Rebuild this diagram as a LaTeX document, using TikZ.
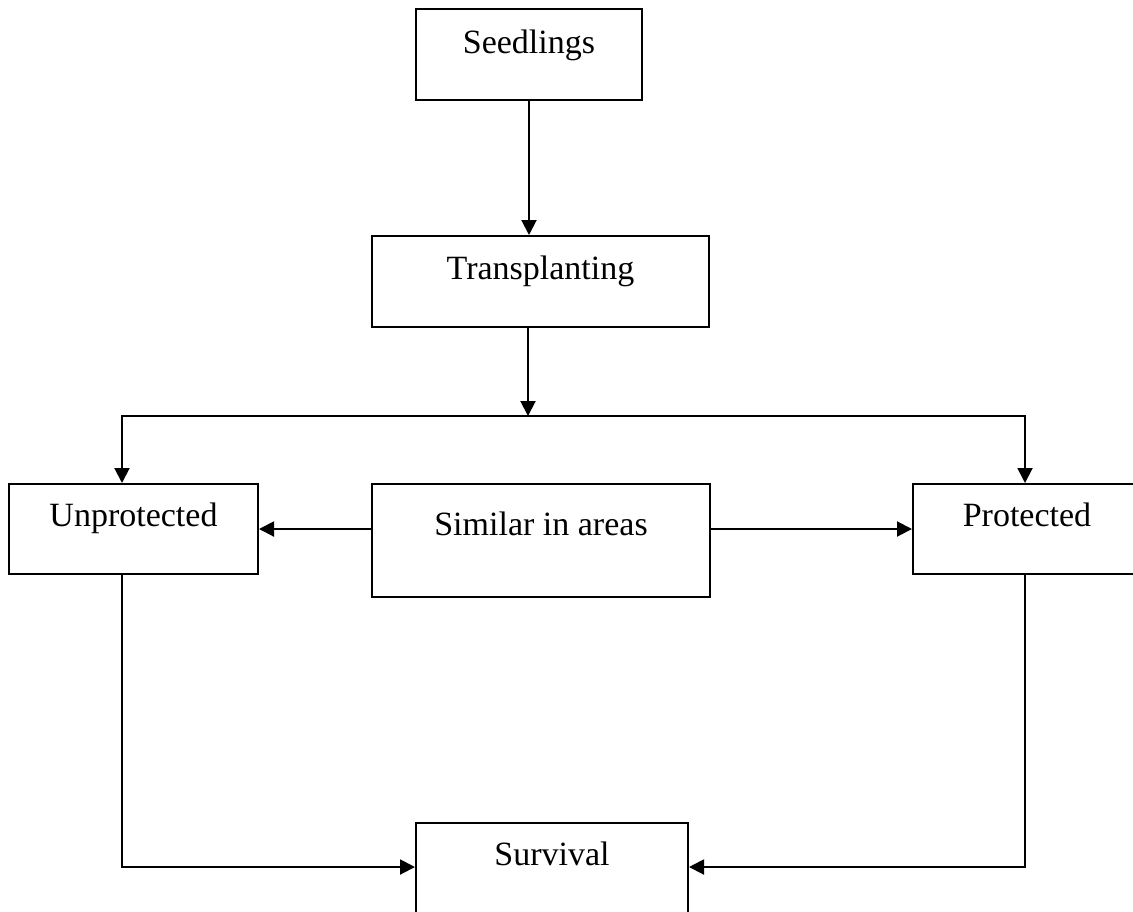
\documentclass[tikz,border=0pt]{standalone}
\usepackage{fontspec}
\setmainfont{Liberation Serif}
\usetikzlibrary{arrows.meta}
\begin{document}
\begin{tikzpicture}[x=0.5pt,y=-0.5pt,
  box/.style={draw, line width=1pt, inner sep=0pt, anchor=north west,
    font=\fontsize{17}{20}\selectfont},
  conn/.style={line width=1pt},
  arr/.style={conn, -{Triangle[length=7.5pt,width=7.5pt]}}]
\useasboundingbox (0,0) rectangle (1133,911);
\clip (0,0) rectangle (1133,911);
\node[box, minimum width=113pt, text height=22pt, text depth=23.5pt] (seed) at (415,8) {Seedlings};
\node[box, minimum width=168.5pt, text height=21.5pt, text depth=24pt] (trans) at (371,235) {Transplanting};
\node[box, minimum width=124.5pt, text height=21pt, text depth=24pt] (unp) at (8,483) {Unprotected};
\node[box, minimum width=169pt, text height=25.5pt, text depth=31pt] (sim) at (371,483) {Similar in areas};
\node[box, minimum width=114pt, text height=21pt, text depth=24pt] (prot) at (912,483) {Protected};
\node[box, minimum width=136pt, text height=21pt, text depth=26pt] (sur) at (415,822) {Survival};
\coordinate (br) at (528,416);
\coordinate (bl) at (122,416);
\coordinate (bre) at (1025,416);
\coordinate (my) at (0,529);
\coordinate (ly) at (0,867);
\draw[arr] (seed.south) -- (seed.south |- trans.north);
\draw[arr] (br |- trans.south) -- (br);
\draw[arr] (br) -- (bl) -- (bl |- unp.north);
\draw[arr] (br) -- (bre) -- (bre |- prot.north);
\draw[arr] (sim.west |- my) -- (unp.east |- my);
\draw[arr] (sim.east |- my) -- (prot.west |- my);
\draw[arr] (bl |- unp.south) -- (bl |- ly) -- (sur.west |- ly);
\draw[arr] (bre |- prot.south) -- (bre |- ly) -- (sur.east |- ly);
\end{tikzpicture}
\end{document}
